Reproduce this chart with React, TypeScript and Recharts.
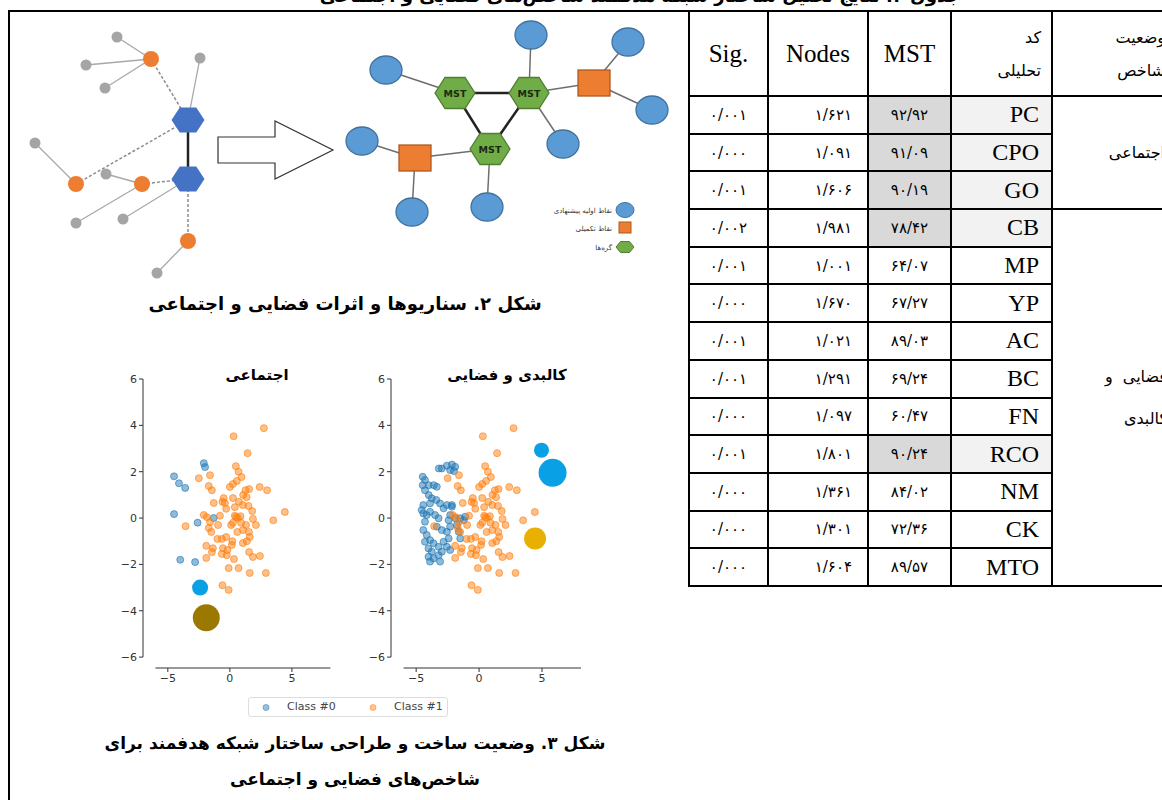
import React from "react";
import { ScatterChart, Scatter, XAxis, YAxis, ReferenceLine } from "recharts";

const FA = '"DejaVu Sans", sans-serif';
const SERIF = '"Liberation Serif", "Times New Roman", serif';

// ---------- scatter plots (figure 3) ----------
const xTicks = [-5, 0, 5];
const yTicks = [-6, -4, -2, 0, 2, 4, 6];

// Class #1 cloud is the same in both panels
const class1 = [
  [2.74, 3.88], [0.3, 3.53], [1.43, 2.8], [0.48, 2.24], [-2.5, 1.72], [-1.6, 1.85], [0.7, 2.0], [0.94, 1.77],
  [0.56, 1.6], [-1.7, 1.38], [-1.45, 1.2], [0.0, 1.34], [0.25, 1.47], [1.26, 1.2], [1.55, 1.25], [2.4, 1.34],
  [3.0, 1.2], [1.07, 1.0], [1.35, 0.9], [-0.5, 0.86], [-0.6, 0.7], [-0.4, 0.65], [0.25, 0.86], [-1.3, 0.65],
  [0.73, 0.7], [1.05, 0.56], [1.5, 0.52], [0.4, 0.47], [4.43, 0.26], [3.5, -0.1], [0.5, 0.04], [0.65, 0.0],
  [0.86, 0.08], [1.86, -0.04], [2.1, -0.3], [-2.1, 0.13], [-1.85, 0.04], [-3.57, -0.35], [-1.6, -0.17],
  [-1.7, -0.43], [-1.5, -0.6], [-0.95, -0.3], [0.1, -0.3], [0.25, -0.2], [1.3, -0.3], [1.05, -0.52],
  [1.53, -0.6], [-0.3, -0.82], [-0.65, -0.9], [1.6, -0.82], [1.37, -1.0], [1.05, -1.08], [-1.9, -1.2],
  [-1.37, -1.3], [-1.45, -1.47], [-0.56, -1.3], [-0.2, -1.38], [0.16, -1.16], [-0.25, -1.6], [-0.65, -1.55],
  [0.33, -1.77], [1.55, -1.47], [1.86, -1.68], [2.42, -1.64], [-1.9, -1.72], [-0.1, -2.16], [0.7, -2.16],
  [1.6, -2.37], [2.9, -2.37], [-0.6, -2.9], [-0.1, -3.1], [0.4, 0.1], [0.9, -0.2], [-0.3, 0.4], [0.6, -0.6],
  [-1.0, -0.9], [1.8, 0.3], [0.2, -1.0], [-0.8, 0.1],
];

const socialClass0 = [
  [-2.1, 2.37], [-2.0, 2.2], [-4.5, 1.8], [-4.1, 1.5], [-3.6, 1.3],
  [-4.5, 0.17], [-2.6, -0.2], [-1.3, 0.0], [-4.0, -1.8], [-2.8, -1.9],
];

const physicalClass0 = [
  [-2.96, 2.14], [-2.56, 2.26], [-2.16, 2.31], [-1.9, 2.21], [-2.3, 2.07], [-2.0, 2.03], [-3.2, 2.14],
  [-4.48, 1.78], [-4.3, 1.64], [-4.0, 1.42], [-3.6, 1.42], [-3.36, 1.35], [-4.48, 1.42], [-4.3, 1.2],
  [-4.0, 0.99], [-3.76, 0.85], [-3.4, 0.78], [-4.43, 0.56], [-4.56, 0.35], [-4.43, 0.2], [-4.16, 0.13],
  [-3.9, 0.27], [-3.5, 0.13], [-3.22, -0.01], [-4.3, -0.16], [-4.43, -0.52], [-4.16, -0.73], [-4.3, -1.02],
  [-3.9, -0.95], [-3.62, -1.09], [-4.02, -1.31], [-3.76, -1.45], [-4.02, -1.67], [-3.62, -1.74],
  [-3.22, -1.6], [-2.96, -1.45], [-3.22, -1.24], [-2.82, -1.02], [-2.56, -1.24], [-2.3, -1.38],
  [-2.42, -0.88], [-2.56, -0.59], [-2.3, -0.37], [-2.42, -0.09], [-2.3, 0.13], [-2.16, 0.56], [-2.82, 0.42],
  [-3.1, 0.63], [-3.9, 0.63], [-3.36, -0.37], [-2.96, -0.52], [-1.9, -0.01], [-1.5, -0.01], [-1.22, -0.09],
  [-1.1, 0.06], [-1.76, -0.3], [-1.62, -0.59], [-1.5, -0.88], [-3.1, -1.88], [-3.9, -1.88], [-2.56, 0.56],
  [-2.16, 0.49],
];

// cluster centres: x, y, relative size
const socialCenters = [[-2.4, -3.0, 8], [-1.9, -4.3, 13.5]];
const physicalCenters = [[4.96, 2.93, 7.5], [5.84, 1.95, 14], [4.45, -0.88, 11]];
const socialCenterColors = ["#0aa0e6", "#9b7800"];
const physicalCenterColors = ["#0aa0e6", "#0aa0e6", "#e8b000"];

const toPts = (a: number[][]) => a.map(([x, y, s]) => ({ x, y, s }));
const minus = (v: number) => String(v).replace("-", "\u2212");

function dot(color: string) {
  return (p: any) => (
    <circle cx={p.cx} cy={p.cy} r={3.5} fill={color} fillOpacity={0.5} stroke={color} strokeOpacity={0.6} strokeWidth={1} />
  );
}

function Panel({ left, plotW, title, titleX, blue, centers, colors }: any) {
  const W = 250;
  const H = 340;
  return (
    <div style={{ position: "absolute", left, top: 360, width: W, height: H }}>
      <ScatterChart width={W} height={H} margin={{ top: 19, left: 13, right: W - 43 - plotW, bottom: 2 }}>
        <XAxis type="number" dataKey="x" domain={[-7, 8.1]} ticks={xTicks} allowDataOverflow axisLine={false}
          tickSize={4} tickFormatter={minus} tick={{ fontSize: 11, fill: "#333", fontFamily: FA }} stroke="#333" />
        <YAxis type="number" dataKey="y" domain={[-6.47, 6]} ticks={yTicks} allowDataOverflow axisLine={false}
          width={30} tickSize={4} tickFormatter={minus} tick={{ fontSize: 11, fill: "#333", fontFamily: FA }} stroke="#333" />
        <ReferenceLine segment={[{ x: -7, y: -6 }, { x: -7, y: 6 }]} stroke="#333" ifOverflow="visible" />
        <ReferenceLine segment={[{ x: -6, y: -6.47 }, { x: 8.1, y: -6.47 }]} stroke="#333" ifOverflow="visible" />
        <Scatter data={toPts(blue)} shape={dot("#1f77b4")} isAnimationActive={false} />
        <Scatter data={toPts(class1)} shape={dot("#ff7f0e")} isAnimationActive={false} />
        <Scatter data={toPts(centers)} isAnimationActive={false}
          shape={(p: any) => <circle cx={p.cx} cy={p.cy} r={p.payload.s} fill={colors[p.index]} />} />
      </ScatterChart>
      <div style={{ position: "absolute", left: titleX - left - 80, width: 160, top: 6, textAlign: "center",
        fontFamily: FA, fontWeight: 700, fontSize: 15, direction: "rtl" }}>{title}</div>
    </div>
  );
}

// ---------- network diagram (figure 2) ----------
const netNodes = [
  { id: "g1", x: 117, y: 37, kind: "gray" }, { id: "g2", x: 200, y: 58, kind: "gray" },
  { id: "g3", x: 86, y: 65, kind: "gray" }, { id: "g4", x: 105, y: 88, kind: "gray" },
  { id: "g5", x: 35, y: 143, kind: "gray" }, { id: "g6", x: 106, y: 174, kind: "gray" },
  { id: "g7", x: 76, y: 223, kind: "gray" }, { id: "g8", x: 123, y: 219, kind: "gray" },
  { id: "g9", x: 157, y: 273, kind: "gray" },
  { id: "o1", x: 151, y: 59, kind: "orange" }, { id: "o2", x: 76, y: 184, kind: "orange" },
  { id: "o3", x: 142, y: 184, kind: "orange" }, { id: "o4", x: 188, y: 241, kind: "orange" },
  { id: "h1", x: 188, y: 120, kind: "hub" }, { id: "h2", x: 188, y: 179, kind: "hub" },
  { id: "ar", x: 218, y: 150, kind: "arrow" },
  { id: "s1", x: 386, y: 70, kind: "site" }, { id: "s2", x: 531, y: 35, kind: "site" },
  { id: "s3", x: 628, y: 42, kind: "site" }, { id: "s4", x: 652, y: 110, kind: "site" },
  { id: "s5", x: 563, y: 144, kind: "site" }, { id: "s6", x: 362, y: 141, kind: "site" },
  { id: "s7", x: 412, y: 212, kind: "site" }, { id: "s8", x: 487, y: 207, kind: "site" },
  { id: "q1", x: 594, y: 83, kind: "extra" }, { id: "q2", x: 415, y: 158, kind: "extra" },
  { id: "m1", x: 455, y: 93, kind: "mst" }, { id: "m2", x: 529, y: 93, kind: "mst" },
  { id: "m3", x: 490, y: 149, kind: "mst" },
  { id: "l1", x: 625, y: 210, kind: "legSite", label: "نقاط اولیه پیشنهادی" },
  { id: "l2", x: 625, y: 228, kind: "legExtra", label: "نقاط تکمیلی" },
  { id: "l3", x: 625, y: 247, kind: "legMst", label: "گره‌ها" },
];

const netEdges = [
  ["g1", "o1", "thin"], ["g3", "o1", "thin"], ["g4", "o1", "thin"], ["g2", "h1", "thin"],
  ["g5", "o2", "thin"], ["g6", "o3", "thin"], ["g7", "o3", "thin"], ["g8", "h2", "thin"], ["g9", "o4", "thin"],
  ["o1", "h1", "dash"], ["o2", "h1", "dash"], ["o3", "h2", "dash"], ["h2", "o4", "dash"],
  ["h1", "h2", "bold"],
  ["s1", "m1", "link"], ["s2", "m2", "link"], ["m2", "q1", "link"], ["q1", "s3", "link"], ["q1", "s4", "link"],
  ["m2", "s5", "link"], ["s6", "q2", "link"], ["q2", "s7", "link"], ["q2", "m3", "link"], ["m3", "s8", "link"],
  ["m1", "m2", "bold"], ["m1", "m3", "bold"], ["m2", "m3", "bold"],
];

const edgeStyle: any = {
  thin: { stroke: "#a8a8a8", strokeWidth: 1.3 },
  dash: { stroke: "#8c8c8c", strokeWidth: 1.5, strokeDasharray: "3 2" },
  bold: { stroke: "#222", strokeWidth: 2.5 },
  link: { stroke: "#6e6e6e", strokeWidth: 1.5 },
};

const hexPts = (cx: number, cy: number, w: number, h: number) => {
  const a = w / 2, b = h / 2, c = w / 4;
  return `${cx - a},${cy} ${cx - c},${cy - b} ${cx + c},${cy - b} ${cx + a},${cy} ${cx + c},${cy + b} ${cx - c},${cy + b}`;
};

function NetShape(p: any) {
  const { cx, cy, payload } = p;
  const legText = (
    <text x={cx - 13} y={cy + 2.5} fontSize={7} fontFamily={FA} fill="#333" textAnchor="end">{payload.label}</text>
  );
  switch (payload.kind) {
    case "gray":
      return <circle cx={cx} cy={cy} r={5.5} fill="#a5a5a5" />;
    case "orange":
      return <circle cx={cx} cy={cy} r={8} fill="#ed7d31" />;
    case "hub":
      return <polygon points={hexPts(cx, cy, 33, 25)} fill="#4472c4" />;
    case "arrow": {
      const pts = [[0, -13], [57, -13], [57, -29], [115, 0], [57, 29], [57, 13], [0, 13]]
        .map(([dx, dy]) => `${cx + dx},${cy + dy}`).join(" ");
      return <polygon points={pts} fill="#fff" stroke="#333" strokeWidth={1.2} />;
    }
    case "site":
      return <ellipse cx={cx} cy={cy} rx={16} ry={14} fill="#5b9bd5" stroke="#41719c" strokeWidth={1.3} />;
    case "extra":
      return <rect x={cx - 16} y={cy - 13} width={32} height={26} fill="#ed7d31" stroke="#ae5a21" strokeWidth={1.3} />;
    case "mst":
      return (
        <g>
          <polygon points={hexPts(cx, cy, 40, 31)} fill="#70ad47" stroke="#507e32" strokeWidth={1.3} />
          <text x={cx} y={cy + 3.5} fontSize={9.5} fontWeight={700} fontFamily={FA} fill="#1d2a12" textAnchor="middle">MST</text>
        </g>
      );
    case "legSite":
      return <g><ellipse cx={cx} cy={cy} rx={9} ry={7.5} fill="#5b9bd5" stroke="#41719c" />{legText}</g>;
    case "legExtra":
      return <g><rect x={cx - 6} y={cy - 6} width={12} height={11} fill="#ed7d31" stroke="#ae5a21" />{legText}</g>;
    case "legMst":
      return <g><polygon points={hexPts(cx, cy, 18, 11)} fill="#70ad47" stroke="#507e32" />{legText}</g>;
    default:
      return <g />;
  }
}

function Network() {
  const byId: any = Object.fromEntries(netNodes.map((n) => [n.id, n]));
  return (
    <div style={{ position: "absolute", left: 10, top: 12 }}>
      <ScatterChart width={670} height={278} margin={{ top: 0, right: 0, bottom: 0, left: 0 }}>
        <XAxis type="number" dataKey="x" domain={[10, 680]} hide />
        <YAxis type="number" dataKey="y" domain={[12, 290]} reversed hide />
        {netEdges.map(([a, b, t], i) => (
          <Scatter key={i} data={[byId[a], byId[b]]} line={edgeStyle[t]} shape={() => <g />} isAnimationActive={false} />
        ))}
        <Scatter data={netNodes} shape={(p: any) => <NetShape {...p} />} isAnimationActive={false} />
      </ScatterChart>
    </div>
  );
}

// ---------- table ----------
const codes = ["PC", "CPO", "GO", "CB", "MP", "YP", "AC", "BC", "FN", "RCO", "NM", "CK", "MTO"];
const mstValues = [92.92, 91.09, 90.19, 78.42, 64.07, 67.27, 89.03, 69.24, 60.47, 90.24, 84.02, 72.36, 89.57];
const nodeValues = [1.621, 1.091, 1.606, 1.981, 1.001, 1.67, 1.021, 1.291, 1.097, 1.801, 1.361, 1.301, 1.604];
const sigValues = [0.001, 0.0, 0.001, 0.002, 0.001, 0.0, 0.001, 0.001, 0.0, 0.001, 0.0, 0.0, 0.0];
const highlighted = ["PC", "CPO", "GO", "CB", "RCO"];

const fa = (v: number, d: number) =>
  v.toFixed(d).replace(/\d/g, (c) => "۰۱۲۳۴۵۶۷۸۹"[+c]).replace(".", "/");

const bd = "2px solid #000";
const cell: any = { border: bd, padding: 0, verticalAlign: "middle" };

function Table() {
  return (
    <table style={{ position: "absolute", left: 688, top: 10, borderCollapse: "collapse", tableLayout: "fixed", width: 480 }}>
      <colgroup>
        <col style={{ width: 79 }} /><col style={{ width: 100 }} /><col style={{ width: 83 }} />
        <col style={{ width: 101 }} /><col style={{ width: 117 }} />
      </colgroup>
      <tbody>
        <tr style={{ height: 85 }}>
          <td style={{ ...cell, textAlign: "center", fontFamily: SERIF, fontSize: 25 }}>Sig.</td>
          <td style={{ ...cell, textAlign: "center", fontFamily: SERIF, fontSize: 25 }}>Nodes</td>
          <td style={{ ...cell, textAlign: "center", fontFamily: SERIF, fontSize: 25 }}>MST</td>
          <td style={{ ...cell, textAlign: "right", paddingRight: 10, fontFamily: FA, fontSize: 16, lineHeight: "33px", direction: "rtl" }}>
            کد<br />تحلیلی
          </td>
          <td style={{ ...cell, borderRight: "none", textAlign: "right", paddingRight: 4, fontFamily: FA, fontSize: 16, lineHeight: "33px", direction: "rtl" }}>
            وضعیت<br />شاخص
          </td>
        </tr>
        {codes.map((c, i) => {
          const hi = highlighted.includes(c);
          return (
            <tr key={c} style={{ height: 37.7 }}>
              <td style={{ ...cell, textAlign: "center", fontFamily: FA, fontSize: 15 }}>{fa(sigValues[i], 3)}</td>
              <td style={{ ...cell, textAlign: "right", paddingRight: 15, fontFamily: FA, fontSize: 15 }}>{fa(nodeValues[i], 3)}</td>
              <td style={{ ...cell, textAlign: "center", fontFamily: FA, fontSize: 15, background: hi ? "#d9d9d9" : "#fff" }}>
                {fa(mstValues[i], 2)}
              </td>
              <td style={{ ...cell, textAlign: "right", paddingRight: 12, fontFamily: SERIF, fontSize: 24, background: hi ? "#f2f2f2" : "#fff" }}>
                {c}
              </td>
              {i === 0 && (
                <td rowSpan={3} style={{ ...cell, borderRight: "none", textAlign: "right", paddingRight: 4, fontFamily: FA, fontSize: 16, direction: "rtl" }}>
                  اجتماعی
                </td>
              )}
              {i === 3 && (
                <td rowSpan={10} style={{ ...cell, borderRight: "none", fontFamily: FA, fontSize: 16, direction: "rtl" }}>
                  <div style={{ display: "flex", justifyContent: "space-between", width: 62, marginRight: 2, lineHeight: "42px" }}>
                    <span>فضایی</span><span>و</span>
                  </div>
                  <div style={{ textAlign: "right", paddingRight: 2, lineHeight: "42px" }}>کالبدی</div>
                </td>
              )}
            </tr>
          );
        })}
      </tbody>
    </table>
  );
}

export default function App() {
  return (
    <div style={{ position: "absolute", left: 0, top: 0, width: 1162, height: 800, overflow: "hidden", background: "#fff", color: "#000" }}>
      <div style={{ position: "absolute", left: 200, width: 880, top: -15, textAlign: "center", fontFamily: FA, fontWeight: 700, fontSize: 18, direction: "rtl", whiteSpace: "nowrap" }}>
        جدول ۳. نتایج تحلیل ساختار شبکه هدفمند شاخص‌های فضایی و اجتماعی
      </div>
      <div style={{ position: "absolute", left: 8, top: 10, width: 682, height: 2, background: "#000" }} />
      <div style={{ position: "absolute", left: 8, top: 10, width: 2, height: 800, background: "#000" }} />

      <Network />
      <div style={{ position: "absolute", left: 40, width: 610, top: 293, textAlign: "center", fontFamily: FA, fontWeight: 700, fontSize: 18, direction: "rtl" }}>
        شکل ۲. سناریوها و اثرات فضایی و اجتماعی
      </div>

      <Panel left={100} plotW={187.4} title="اجتماعی" titleX={257} blue={socialClass0} centers={socialCenters} colors={socialCenterColors} />
      <Panel left={348} plotW={190} title="کالبدی و فضایی" titleX={507} blue={physicalClass0} centers={physicalCenters} colors={physicalCenterColors} />

      <div style={{ position: "absolute", left: 248, top: 697, width: 200, height: 20, border: "1px solid #ddd", borderRadius: 3, boxSizing: "border-box", fontFamily: FA, fontSize: 11, color: "#444" }}>
        <svg width={200} height={20} style={{ position: "absolute", left: 0, top: 0 }}>
          <circle cx={17} cy={9.5} r={3} fill="#1f77b4" fillOpacity={0.45} stroke="#1f77b4" strokeOpacity={0.5} />
          <circle cx={124} cy={9.5} r={3} fill="#ff7f0e" fillOpacity={0.45} stroke="#ff7f0e" strokeOpacity={0.5} />
        </svg>
        <span style={{ position: "absolute", left: 38, top: 2 }}>Class #0</span>
        <span style={{ position: "absolute", left: 145, top: 2 }}>Class #1</span>
      </div>

      <div style={{ position: "absolute", left: 40, width: 630, top: 733, textAlign: "center", fontFamily: FA, fontWeight: 700, fontSize: 17, direction: "rtl" }}>
        شکل ۳. وضعیت ساخت و طراحی ساختار شبکه هدفمند برای
      </div>
      <div style={{ position: "absolute", left: 40, width: 630, top: 769, textAlign: "center", fontFamily: FA, fontWeight: 700, fontSize: 17, direction: "rtl" }}>
        شاخص‌های فضایی و اجتماعی
      </div>

      <Table />
    </div>
  );
}
